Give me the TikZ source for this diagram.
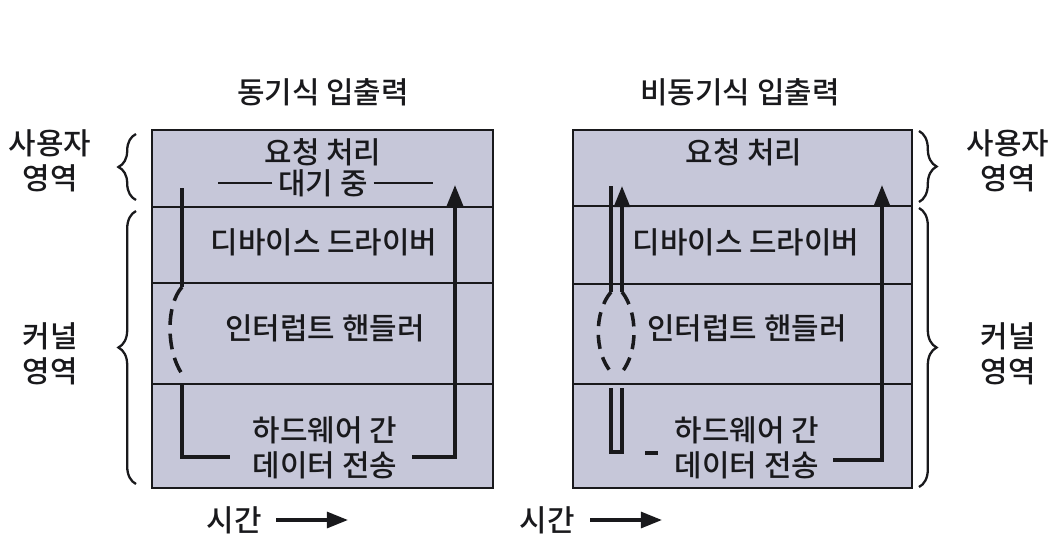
\documentclass[tikz,border=0pt]{standalone}
\usepackage{fontspec}
\setmainfont{Noto Sans CJK KR}[UprightFont=* Medium]
\usepackage{tikz}
\usetikzlibrary{arrows.meta, decorations.pathreplacing}

\definecolor{layerfill}{RGB}{198,199,217}
\definecolor{ink}{RGB}{25,25,28}

\tikzset{
	layer/.style={draw=ink, line width=1pt, fill=layerfill},
	flow/.style={draw=ink, line width=2pt},
	waitline/.style={draw=ink, line width=1.6pt},
	lbl/.style={font=\fontsize{17}{20}\selectfont, text=ink, inner sep=1pt},
	side/.style={lbl, align=center},
	brc/.style={draw=ink, line width=1.3pt, decorate, decoration={brace, amplitude=10pt}}
}

\begin{document}
\begin{tikzpicture}[x=0.02cm, y=-0.02cm, >={Triangle[length=12pt, width=9pt]}]
	\useasboundingbox (0,0) rectangle (1058,559);

	% 동기식
	\draw[layer] (152,130) rectangle (493,207);
	\draw[layer] (152,207) rectangle (493,283);
	\draw[layer] (152,283) rectangle (493,384);
	\draw[layer] (152,384) rectangle (493,488);
	\node[lbl] (sTitle) at (323,92) {동기식 입출력};
	\node[lbl] (sReq) at (323,152) {요청 처리};
	\node[lbl] (sWait) at (323,183) {대기 중};
	\node[lbl] (sDrv) at (324,242) {디바이스 드라이버};
	\node[lbl] (sIrq) at (325,328) {인터럽트 핸들러};
	\node[lbl, align=center] (sHw) at (325,448) {하드웨어 간\\데이터 전송};
	\draw[waitline] (sWait.west) ++(-4,0) -- (218,183);
	\draw[waitline] (sWait.east) ++(4,0) -- (433,183);

	\coordinate (s1) at (182,188);
	\coordinate (s2) at (182,287);
	\coordinate (s3) at (182,374);
	\coordinate (s4) at (182,384);
	\coordinate (s5) at (182,457);
	\coordinate (s6) at (230,457);
	\coordinate (s7) at (412,457);
	\coordinate (s8) at (455,457);
	\coordinate (s9) at (455,185);
	\draw[flow] (s1) -- (s2);
	\draw[flow, dash pattern=on 9pt off 5pt] (s2) .. controls (166,305) and (166,350) .. (s3);
	\draw[flow] (s4) -- (s5) -- (s6);
	\draw[flow, ->] (s7) -- (s8) -- (s9);

	% 비동기식
	\draw[layer] (573,130) rectangle (912,206);
	\draw[layer] (573,206) rectangle (912,284);
	\draw[layer] (573,284) rectangle (912,384);
	\draw[layer] (573,384) rectangle (912,488);
	\node[lbl] (aTitle) at (740,92) {비동기식 입출력};
	\node[lbl] (aReq) at (744,152) {요청 처리};
	\node[lbl] (aDrv) at (746,242) {디바이스 드라이버};
	\node[lbl] (aIrq) at (747,328) {인터럽트 핸들러};
	\node[lbl, align=center] (aHw) at (747,448) {하드웨어 간\\데이터 전송};

	\coordinate (a1) at (611,186);
	\coordinate (a2) at (611,292);
	\coordinate (a3) at (622,186);
	\coordinate (a4) at (622,292);
	\coordinate (a5) at (611,372);
	\coordinate (a6) at (622,372);
	\coordinate (a7) at (611,388);
	\coordinate (a8) at (611,452);
	\coordinate (a9) at (622,452);
	\coordinate (a10) at (622,388);
	\draw[flow] (a2) -- (a1);
	\draw[flow, ->] (a4) -- (a3);
	\draw[flow, dash pattern=on 8pt off 5pt] (a2) .. controls (594,312) and (594,352) .. (a5);
	\draw[flow, dash pattern=on 8pt off 5pt] (a4) .. controls (638,312) and (638,352) .. (a6);
	\draw[flow] (a7) -- (a8) -- (a9) -- (a10);
	\coordinate (a11) at (645,453);
	\coordinate (a12) at (658,453);
	\draw[flow] (a11) -- (a12);
	\coordinate (a13) at (833,460);
	\coordinate (a14) at (882,460);
	\coordinate (a15) at (882,185);
	\draw[flow, ->] (a13) -- (a14) -- (a15);

	% 영역
	\draw[brc] (136,200) -- (136,134);
	\draw[brc] (136,484) -- (136,211);
	\node[side] (lUser) at (50,161) {사용자\\영역};
	\node[side] (lKern) at (50,354) {커널\\영역};
	\draw[brc] (919,131) -- (919,202);
	\draw[brc] (919,208) -- (919,487);
	\node[side] (rUser) at (1008,161) {사용자\\영역};
	\node[side] (rKern) at (1008,354) {커널\\영역};

	% 시간
	\node[lbl, anchor=east] (sTime) at (264,520) {시간};
	\coordinate (st1) at (276,520);
	\coordinate (st2) at (348,520);
	\draw[flow, ->] (st1) -- (st2);
	\node[lbl, anchor=east] (aTime) at (577,520) {시간};
	\coordinate (at1) at (590,520);
	\coordinate (at2) at (662,520);
	\draw[flow, ->] (at1) -- (at2);
\end{tikzpicture}
\end{document}
